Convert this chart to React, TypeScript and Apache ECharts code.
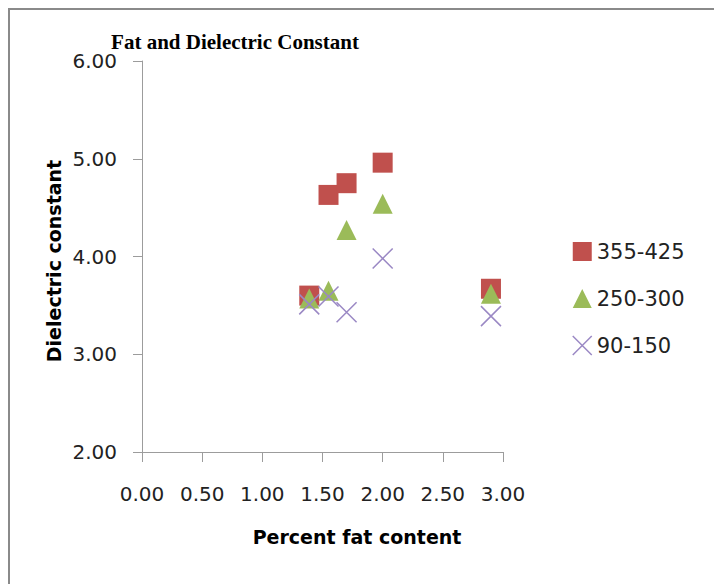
import React, { useEffect, useRef } from "react";
import * as echarts from "echarts";

// Percent fat content (x) shared by every sample group
const fatContent = [1.39, 1.55, 1.7, 2.0, 2.9];

// Dielectric constant per frequency group
const group355to425 = [3.6, 4.63, 4.75, 4.96, 3.67];
const group250to300 = [3.57, 3.65, 4.27, 4.54, 3.62];
const group90to150 = [3.51, 3.59, 3.43, 3.98, 3.39];

const seriesNames = ["355-425", "250-300", "90-150"];
const xTicks = { min: 0, max: 3, interval: 0.5 };
const yTicks = { min: 2, max: 6, interval: 1 };

const RED = "#C0504D";
const GREEN = "#9BBB59";
const PURPLE = "#9a88c4";
const AXIS = "#9c9c9c";
const SANS = "DejaVu Sans";

const pairs = (ys: number[]) => ys.map((y, i) => [fatContent[i], y]);

const CROSS = "path://M0,0L20,20M20,0L0,20";

export default function App() {
  const ref = useRef<HTMLDivElement>(null);

  useEffect(() => {
    if (!ref.current) return;
    const chart = echarts.init(ref.current, null, { renderer: "svg" });
    chart.setOption({
      animation: false,
      backgroundColor: "#ffffff",
      grid: { left: 142, top: 61, width: 361, height: 391, containLabel: false },
      xAxis: {
        type: "value",
        min: xTicks.min,
        max: xTicks.max,
        interval: xTicks.interval,
        splitLine: { show: false },
        axisLine: { show: true, lineStyle: { color: AXIS, width: 1 } },
        axisTick: { show: true, inside: false, length: 10, lineStyle: { color: AXIS } },
        axisLabel: {
          margin: 32,
          color: "#222",
          fontFamily: SANS,
          fontSize: 20,
          formatter: (v: number) => v.toFixed(2),
        },
      },
      yAxis: {
        type: "value",
        min: yTicks.min,
        max: yTicks.max,
        interval: yTicks.interval,
        splitLine: { show: false },
        axisLine: { show: true, lineStyle: { color: AXIS, width: 1 } },
        axisTick: { show: true, inside: false, length: 9, lineStyle: { color: AXIS } },
        axisLabel: {
          margin: 25,
          color: "#222",
          fontFamily: SANS,
          fontSize: 20,
          formatter: (v: number) => v.toFixed(2),
        },
      },
      legend: {
        orient: "vertical",
        left: 567,
        top: 236,
        itemWidth: 19,
        itemHeight: 19,
        itemGap: 26,
        textStyle: { color: "#222", fontFamily: SANS, fontSize: 21, lineHeight: 20 },
        data: [
          { name: seriesNames[0], icon: "rect" },
          { name: seriesNames[1], icon: "triangle" },
          {
            name: seriesNames[2],
            icon: CROSS,
            itemStyle: { color: "transparent", borderColor: PURPLE, borderWidth: 1.5 },
          },
        ],
      },
      series: [
        {
          name: seriesNames[0],
          type: "scatter",
          symbol: "rect",
          symbolSize: 20,
          itemStyle: { color: RED, opacity: 1 },
          data: pairs(group355to425),
        },
        {
          name: seriesNames[1],
          type: "scatter",
          symbol: "triangle",
          symbolSize: 20,
          itemStyle: { color: GREEN, opacity: 1 },
          data: pairs(group250to300),
        },
        {
          name: seriesNames[2],
          type: "scatter",
          symbol: CROSS,
          symbolSize: 20,
          itemStyle: { color: "transparent", borderColor: PURPLE, borderWidth: 1.5, opacity: 1 },
          data: pairs(group90to150),
        },
      ],
      graphic: [
        {
          type: "rect",
          z: -10,
          shape: { x: 9, y: 9, width: 900, height: 800 },
          style: { fill: "none", stroke: "#8a8a8a", lineWidth: 2 },
        },
        {
          type: "text",
          x: 235,
          y: 42,
          style: {
            text: "Fat and Dielectric Constant",
            font: "bold 21px 'Liberation Serif'",
            fill: "#000",
            textAlign: "center",
            textVerticalAlign: "middle",
          },
        },
        {
          type: "text",
          x: 357,
          y: 537,
          style: {
            text: "Percent fat content",
            font: `bold 19px '${SANS}'`,
            fill: "#000",
            textAlign: "center",
            textVerticalAlign: "middle",
          },
        },
        {
          type: "text",
          x: 54,
          y: 261,
          rotation: Math.PI / 2,
          style: {
            text: "Dielectric constant",
            font: `bold 19px '${SANS}'`,
            fill: "#000",
            textAlign: "center",
            textVerticalAlign: "middle",
          },
        },
      ],
    });
    return () => chart.dispose();
  }, []);

  return (
    <div
      ref={ref}
      style={{ position: "absolute", left: 0, top: 0, width: 714, height: 584 }}
    />
  );
}
